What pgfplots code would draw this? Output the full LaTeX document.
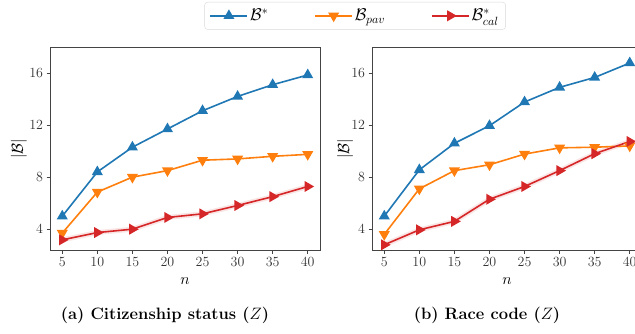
\RequirePackage{fix-cm}
\documentclass[border=0pt]{standalone}
\usepackage{pgfplots}
\pgfplotsset{compat=1.18}
\definecolor{tabblue}{HTML}{1F77B4}
\definecolor{taborange}{HTML}{FF7F0E}
\definecolor{tabred}{HTML}{D62728}
\definecolor{spine}{HTML}{444444}

\pgfplotsset{
  myaxis/.style={
    scale only axis, width=270pt, height=203pt,
    xmin=3.25, xmax=41.75, ymin=2.4, ymax=18,
    xtick={5,10,...,40}, ytick={4,8,12,16},
    tick align=outside, tick pos=left, major tick length=3.5pt,
    tick style={spine, line width=0.8pt},
    axis line style={spine, line width=0.9pt},
    ticklabel style={font=\fontsize{14}{16}\selectfont, text=black!80},
    xlabel={$n$}, ylabel={$|\mathcal{B}|$},
    label style={font=\fontsize{16}{18}\selectfont},
    xlabel style={at={(axis description cs:0.5,-0.153)}, anchor=center},
    every axis plot/.append style={line width=1.6pt},
    legend image code/.code={\draw[mark repeat=2,mark phase=2,##1] plot coordinates {(0pt,0pt) (18.5pt,0pt) (37pt,0pt)};},
  },
  bstar/.style={tabblue, mark=triangle*, mark size=4.8pt, mark options={solid}},
  bpav/.style={taborange, mark=triangle*, mark size=4.8pt, mark options={solid, rotate=180}},
  bcal/.style={tabred, mark=triangle*, mark size=4.8pt, mark options={solid, rotate=-90}},
  band/.style={tabred, line width=5pt, opacity=0.12, forget plot},
}

\begin{document}
\begin{tikzpicture}[x=1pt,y=1pt]
\useasboundingbox (0,0) rectangle (635,333);

\begin{axis}[myaxis, at={(50pt,83pt)}, anchor=south west,
  ylabel style={at={(axis description cs:-0.115,0.5)}, anchor=center},
  legend columns=3,
  legend style={at={(rel axis cs:1.13,1.2217)}, anchor=north,
    draw=black!15, rounded corners=3pt, inner xsep=5pt, inner ysep=5pt,
    font=\fontsize{17}{19}\selectfont,
    /tikz/every even column/.append style={column sep=44pt}},
]
\addplot[band] coordinates {(5,3.18) (10,3.74) (15,4.0) (20,4.9) (25,5.18) (30,5.82) (35,6.5) (40,7.28)};
\addplot[bstar] coordinates {(5,5.0) (10,8.4) (15,10.3) (20,11.7) (25,13.1) (30,14.2) (35,15.1) (40,15.85)};
\addplot[bpav] coordinates {(5,3.7) (10,6.85) (15,8.0) (20,8.5) (25,9.3) (30,9.4) (35,9.6) (40,9.75)};
\addplot[bcal] coordinates {(5,3.18) (10,3.74) (15,4.0) (20,4.9) (25,5.18) (30,5.82) (35,6.5) (40,7.28)};
\legend{$\mathcal{B}^{*}$, $\mathcal{B}_{pav}$, $\mathcal{B}^{*}_{cal}$}
\end{axis}

\begin{axis}[myaxis, at={(372pt,83pt)}, anchor=south west,
  ylabel style={at={(axis description cs:-0.1,0.5)}, anchor=center},
]
\addplot[band] coordinates {(5,2.8) (10,3.95) (15,4.6) (20,6.3) (25,7.28) (30,8.5) (35,9.8) (40,10.74)};
\addplot[bstar] coordinates {(5,5.0) (10,8.56) (15,10.6) (20,11.95) (25,13.77) (30,14.9) (35,15.66) (40,16.77)};
\addplot[bpav] coordinates {(5,3.6) (10,7.1) (15,8.5) (20,8.95) (25,9.77) (30,10.25) (35,10.3) (40,10.4)};
\addplot[bcal] coordinates {(5,2.8) (10,3.95) (15,4.6) (20,6.3) (25,7.28) (30,8.5) (35,9.8) (40,10.74)};
\end{axis}

\node[font=\bfseries\fontsize{16.5}{18}\selectfont] at (165,18) {(a) Citizenship status ($Z$)};
\node[font=\bfseries\fontsize{16.5}{18}\selectfont] at (487,18) {(b) Race code ($Z$)};
\end{tikzpicture}
\end{document}
